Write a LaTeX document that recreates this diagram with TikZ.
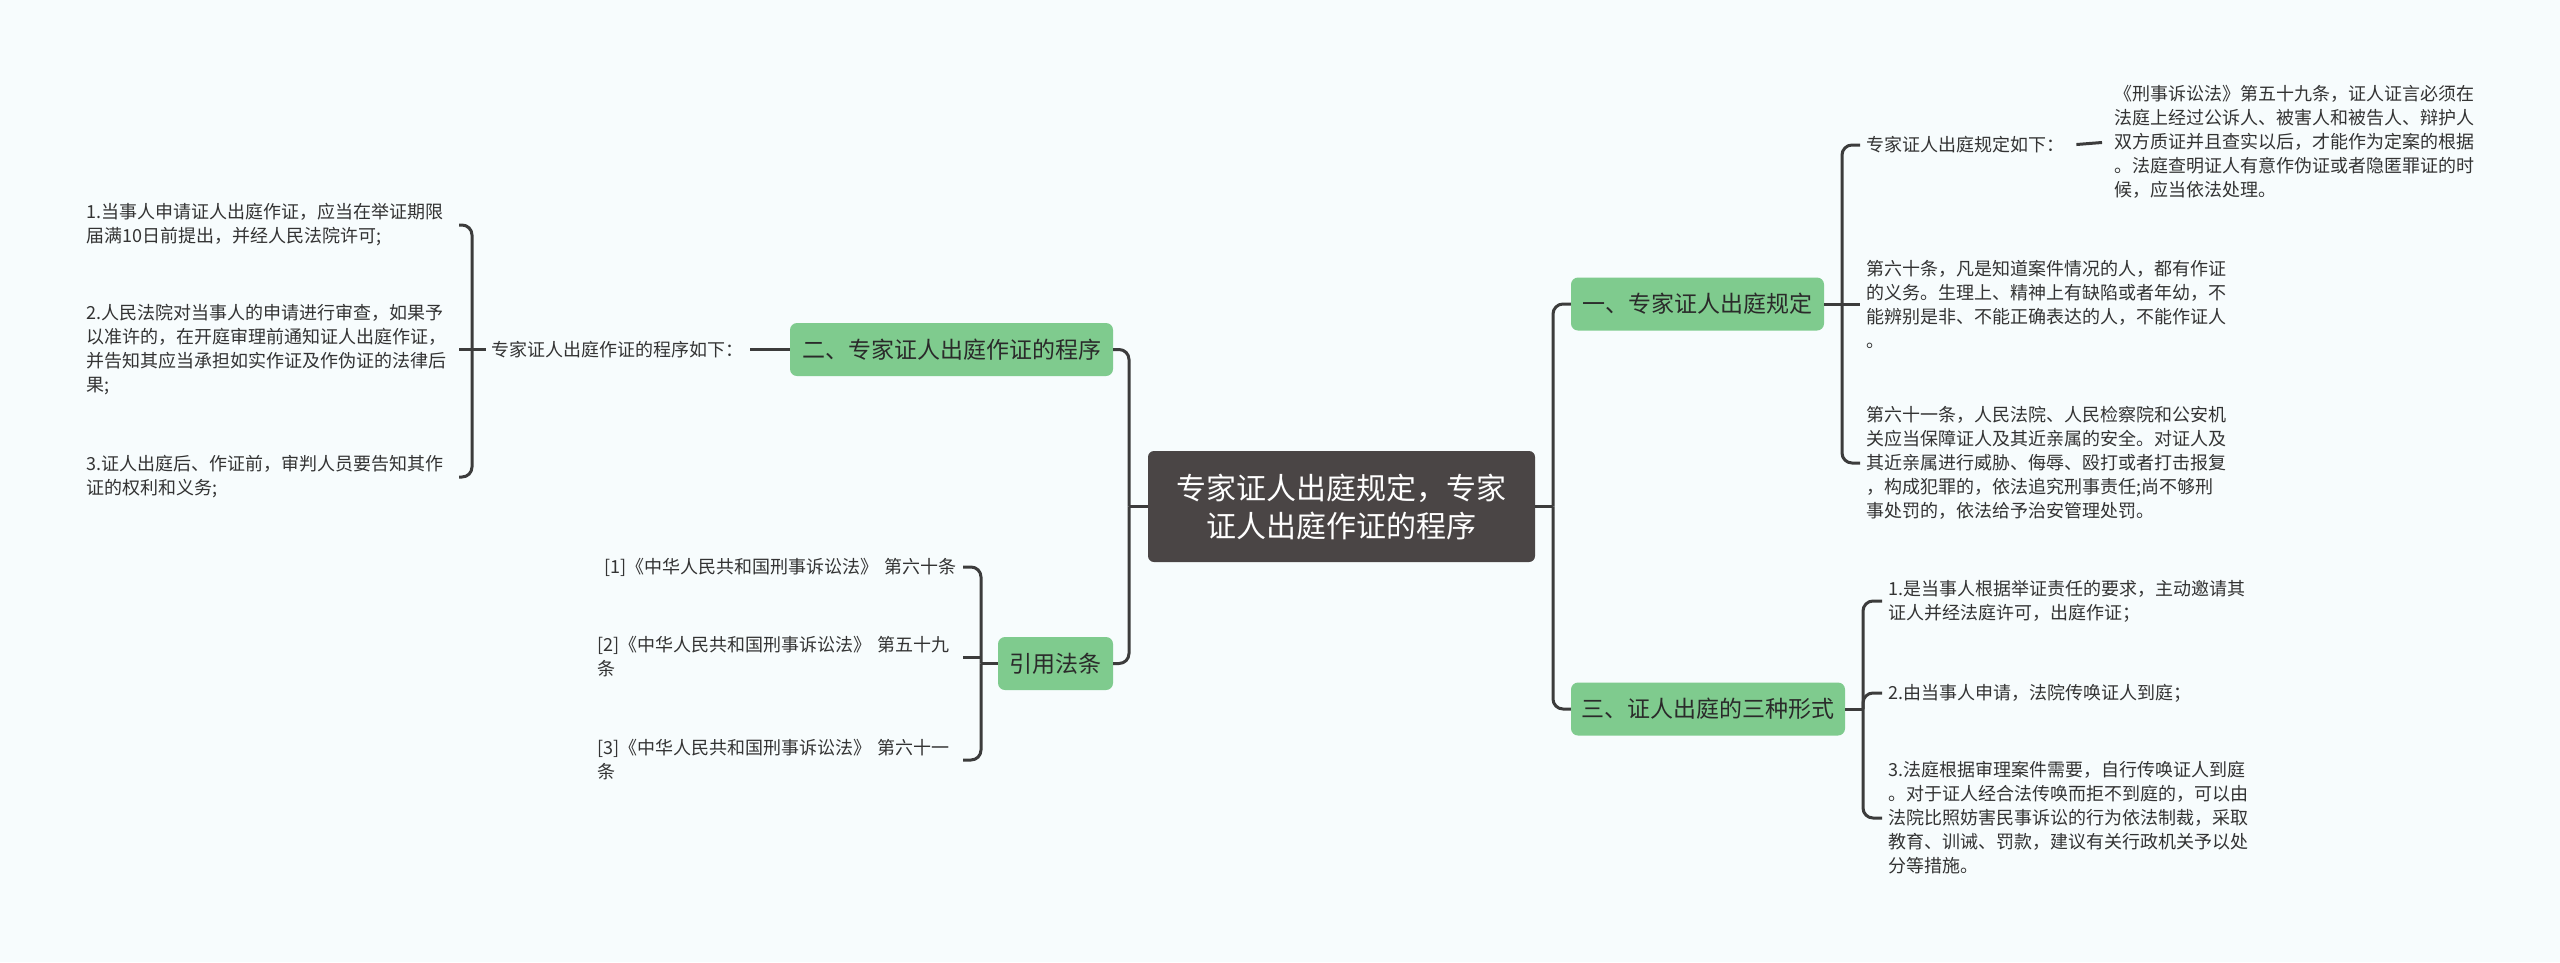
\documentclass[tikz,border=0pt]{standalone}
\usepackage{fontspec}
\setmainfont{Noto Sans CJK SC}
\definecolor{bgc}{HTML}{F7FCFD}
\definecolor{darkc}{HTML}{4A4545}
\definecolor{greenc}{HTML}{7FCB8E}
\definecolor{linec}{HTML}{3C3C3C}
\definecolor{leaftext}{HTML}{333333}
\definecolor{topictext}{HTML}{2A2A2A}
\begin{document}
\begin{tikzpicture}[x=1pt,y=-1pt,
  conn/.style={draw=linec, line width=3pt, rounded corners=10pt},
  rootbox/.style={fill=darkc, rounded corners=6pt, text=white, font=\fontsize{30}{38}\selectfont, align=center, minimum width=387pt, minimum height=111pt, inner sep=0pt},
  topic/.style={fill=greenc, rounded corners=7pt, text=topictext, font=\fontsize{23}{28}\selectfont, minimum height=53pt, inner sep=0pt},
  leaf/.style={text=leaftext, font=\fontsize{18}{24}\selectfont, align=left, inner xsep=6pt, inner ysep=0pt},
]
\fill[bgc] (0,0) rectangle (2560,962);
\useasboundingbox (0,0) rectangle (2560,962);

% main nodes
\node[rootbox] (c) at (1341.5,506.5) {专家证人出庭规定，专家\\证人出庭作证的程序};
\node[topic, minimum width=253pt] (n1) at (1697.5,304) {一、专家证人出庭规定};
\node[topic, minimum width=274pt] (n3) at (1708,709) {三、证人出庭的三种形式};
\node[topic, minimum width=323pt] (n2) at (951.5,349.5) {二、专家证人出庭作证的程序};
\node[topic, minimum width=115pt] (n4) at (1055.5,663.5) {引用法条};

% right leaves
\node[leaf, anchor=west] (a1) at (1860,145) {专家证人出庭规定如下：};
\node[leaf, anchor=west] (a1r) at (2108,142) {《刑事诉讼法》第五十九条，证人证言必须在\\法庭上经过公诉人、被害人和被告人、辩护人\\双方质证并且查实以后，才能作为定案的根据\\。法庭查明证人有意作伪证或者隐匿罪证的时\\候，应当依法处理。};
\node[leaf, anchor=west] (b1) at (1860,304) {第六十条，凡是知道案件情况的人，都有作证\\的义务。生理上、精神上有缺陷或者年幼，不\\能辨别是非、不能正确表达的人，不能作证人\\。};
\node[leaf, anchor=west] (b2) at (1860,463) {第六十一条，人民法院、人民检察院和公安机\\关应当保障证人及其近亲属的安全。对证人及\\其近亲属进行威胁、侮辱、殴打或者打击报复\\，构成犯罪的，依法追究刑事责任;尚不够刑\\事处罚的，依法给予治安管理处罚。};
\node[leaf, anchor=west] (d1) at (1882,601) {1.是当事人根据举证责任的要求，主动邀请其\\证人并经法庭许可，出庭作证；};
\node[leaf, anchor=west] (d2) at (1882,693) {2.由当事人申请，法院传唤证人到庭；};
\node[leaf, anchor=west] (d3) at (1882,818) {3.法庭根据审理案件需要，自行传唤证人到庭\\。对于证人经合法传唤而拒不到庭的，可以由\\法院比照妨害民事诉讼的行为依法制裁，采取\\教育、训诫、罚款，建议有关行政机关予以处\\分等措施。};

% left leaves
\node[leaf, anchor=east] (e) at (750,349.5) {专家证人出庭作证的程序如下：};
\node[leaf, anchor=east, text width=366pt] (f1) at (459,225) {1.当事人申请证人出庭作证，应当在举证期限\\届满10日前提出，并经人民法院许可;};
\node[leaf, anchor=east, text width=366pt] (f2) at (459,349.5) {2.人民法院对当事人的申请进行审查，如果予\\以准许的，在开庭审理前通知证人出庭作证，\\并告知其应当承担如实作证及作伪证的法律后\\果;};
\node[leaf, anchor=east, text width=366pt] (f3) at (459,477) {3.证人出庭后、作证前，审判人员要告知其作\\证的权利和义务;};
\node[leaf, anchor=east, text width=359pt] (g1) at (963,567) {\mbox{\hspace*{7pt}[1]《中华人民共和国刑事诉讼法》 第六十条}};
\node[leaf, anchor=east, text width=359pt] (g2) at (963,657) {[2]《中华人民共和国刑事诉讼法》 第五十九\\条};
\node[leaf, anchor=east, text width=359pt] (g3) at (963,760) {[3]《中华人民共和国刑事诉讼法》 第六十一\\条};

% junctions
\coordinate (jR) at (1553,506.5);
\coordinate (j1) at (1842,304);
\coordinate (j3) at (1863,709);
\coordinate (jL) at (1129,506.5);
\coordinate (jE) at (472,349.5);
\coordinate (j4) at (981,663.5);

% right connectors
\draw[conn] (c.east) -- (jR);
\draw[conn] (jR) |- (n1.west);
\draw[conn] (jR) |- (n3.west);
\draw[conn] (n1.east) -- (b1.west);
\draw[conn] (j1) |- (a1.west);
\draw[conn] (j1) |- (b2.west);
\draw[conn, shorten <=6pt, shorten >=6pt] (a1.east) -- (a1r.west);
\draw[conn] (n3.east) -- (j3);
\draw[conn] (j3) |- (d1.west);
\draw[conn] (j3) |- (d2.west);
\draw[conn] (j3) |- (d3.west);

% left connectors
\draw[conn] (c.west) -- (jL);
\draw[conn] (jL) |- (n2.east);
\draw[conn] (jL) |- (n4.east);
\draw[conn] (n2.west) -- (e.east);
\draw[conn] (e.west) -- (f2.east);
\draw[conn] (jE) |- (f1.east);
\draw[conn] (jE) |- (f3.east);
\draw[conn] (n4.west) -- (j4);
\draw[conn] (j4) |- (g1.east);
\draw[conn] (j4) |- (g3.east);
\draw[conn] (g2.east) -- (g2.east -| j4);
\end{tikzpicture}
\end{document}
